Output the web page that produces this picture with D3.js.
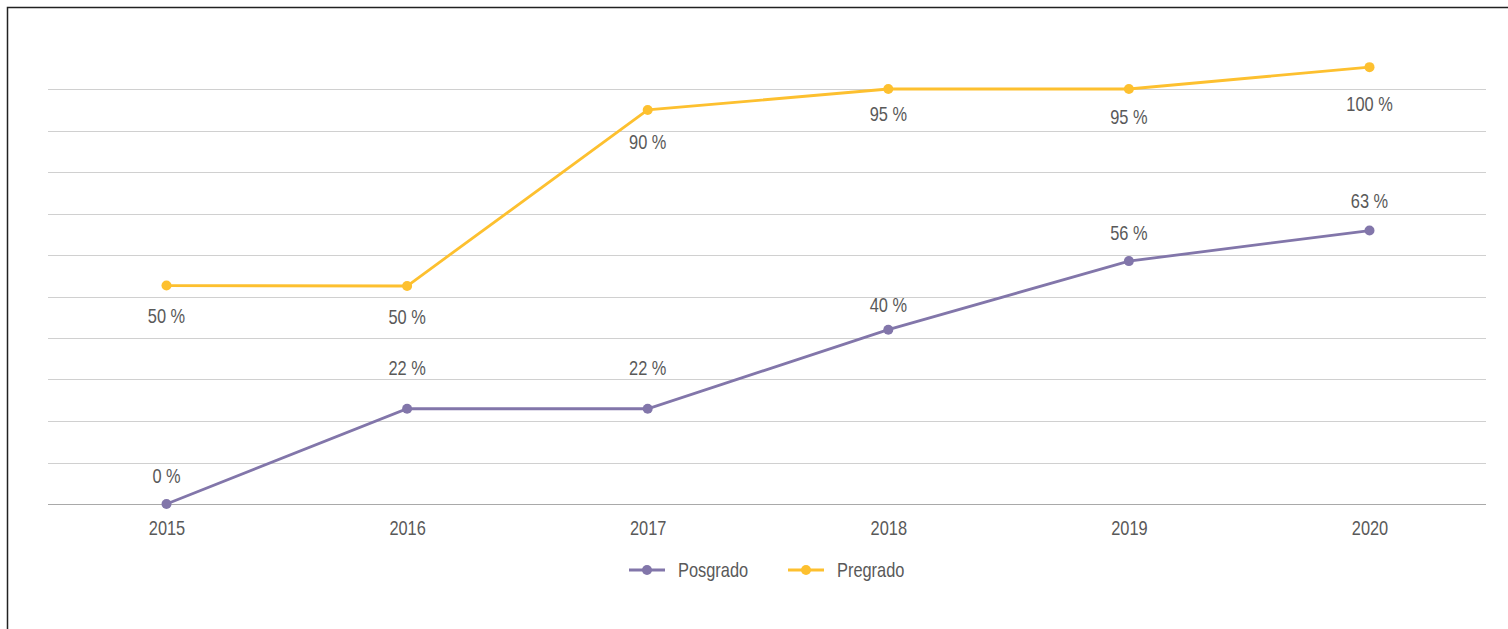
<!DOCTYPE html>
<html>
<head>
<meta charset="utf-8">
<script src="https://cdn.jsdelivr.net/npm/d3@7"></script>
<style>
  html, body { margin: 0; padding: 0; background: #fff; overflow: hidden; }
  text { font-family: "Liberation Sans Narrow", "Arial Narrow", "Liberation Sans", Arial, sans-serif; }
</style>
</head>
<body>
<div id="chart"></div>
<script>
// data
const years = ["2015", "2016", "2017", "2018", "2019", "2020"];
const posgrado = [0, 21.8, 21.8, 39.9, 55.6, 62.6];
const pregrado = [50, 49.9, 90.2, 95, 95, 100];
const gridTicks = [0, 9.5, 19, 28.5, 38, 47.5, 57, 66.5, 76, 85.5, 95];

// hand placed label nudges (px from the point)
const posgradoDy = [-21, -34, -34, -18, -21, -23];
const pregradoDy = [37, 38, 39, 32, 35, 44];

const width = 1508, height = 629;
const colPos = "#8276aa", colPre = "#fdc02f";
// no narrow font installed, so squeeze the sans horizontally
const narrow = "scale(0.82,1)";

const svg = d3.select("#chart").append("svg")
  .attr("width", width)
  .attr("height", height);

// frame (right / bottom edges fall outside the picture)
svg.append("rect")
  .attr("x", 7.5).attr("y", 7.5)
  .attr("width", width + 20).attr("height", height + 20)
  .attr("fill", "none")
  .attr("stroke", "#222")
  .attr("stroke-width", 1.5);

const x = d3.scalePoint()
  .domain(years)
  .range([166.5, 1369.5]);

const y = d3.scaleLinear()
  .domain([0, 95])
  .range([504, 89]);

// gridlines
svg.append("g")
  .selectAll("line")
  .data(gridTicks)
  .join("line")
    .attr("x1", 48).attr("x2", 1486)
    .attr("y1", d => Math.round(y(d)) + 0.5)
    .attr("y2", d => Math.round(y(d)) + 0.5)
    .attr("stroke", (d, i) => i === 0 ? "#a9a9a9" : "#d0d0d0")
    .attr("stroke-width", 1.2);

// x axis labels
const xAxis = svg.append("g")
  .attr("transform", "translate(0,504)")
  .call(d3.axisBottom(x).tickSize(0).tickPadding(17));
xAxis.select(".domain").remove();
xAxis.selectAll("text")
  .attr("font-size", 20)
  .attr("fill", "#595959")
  .attr("dy", "0.71em")
  .attr("transform", narrow);

const series = [
  {name: "Posgrado", values: posgrado, color: colPos, dy: posgradoDy},
  {name: "Pregrado", values: pregrado, color: colPre, dy: pregradoDy}
];

const line = d3.line()
  .x((d, i) => x(years[i]))
  .y(d => y(d));

series.forEach(s => {
  svg.append("path")
    .datum(s.values)
    .attr("fill", "none")
    .attr("stroke", s.color)
    .attr("stroke-width", 2.8)
    .attr("d", line);

  svg.append("g")
    .selectAll("circle")
    .data(s.values)
    .join("circle")
      .attr("cx", (d, i) => x(years[i]))
      .attr("cy", d => y(d))
      .attr("r", 5)
      .attr("fill", s.color);

  svg.append("g")
    .selectAll("text")
    .data(s.values)
    .join("text")
      .attr("transform", (d, i) => `translate(${x(years[i])},${y(d) + s.dy[i]}) ${narrow}`)
      .attr("text-anchor", "middle")
      .attr("font-size", 20)
      .attr("fill", "#595959")
      .text(d => Math.round(d) + " %");
});

// legend
const legend = svg.append("g")
  .attr("transform", "translate(629,570)");
const legendX = d3.scaleOrdinal().domain(series.map(s => s.name)).range([0, 159]);

const item = legend.selectAll("g")
  .data(series)
  .join("g")
    .attr("transform", d => `translate(${legendX(d.name)},0)`);
item.append("line")
  .attr("x1", 0).attr("x2", 36)
  .attr("stroke", d => d.color)
  .attr("stroke-width", 2.8);
item.append("circle")
  .attr("cx", 18).attr("r", 5)
  .attr("fill", d => d.color);
item.append("text")
  .attr("transform", `translate(49,7) ${narrow}`)
  .attr("font-size", 20)
  .attr("fill", "#595959")
  .text(d => d.name);
</script>
</body>
</html>
